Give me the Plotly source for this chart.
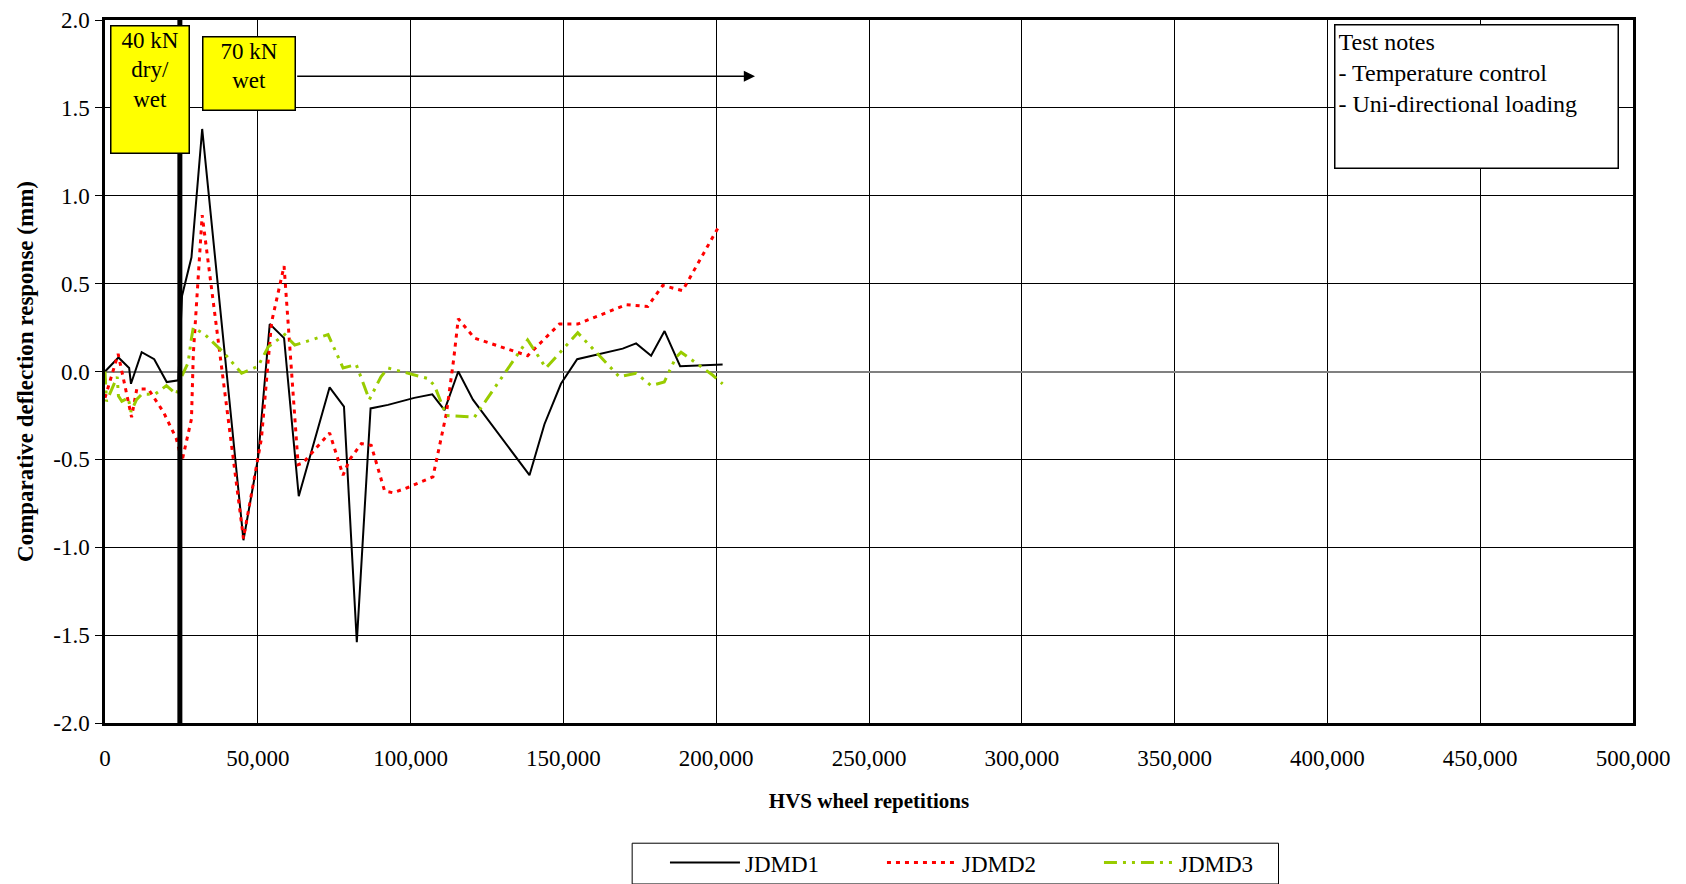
import plotly.graph_objects as go

# %%
# values
jdmd1_x = [0, 4400, 7900, 8500, 12000, 16100, 20200, 24000, 25200, 28300, 31800,
           45300, 50100, 53900, 58600, 63400, 73500, 78200, 82400, 86900, 92600,
           101200, 107100, 111100, 115600, 120400, 138900, 143800, 149200, 154500,
           169400, 173800, 178700, 183100, 188200, 202100]
jdmd1_y = [0.0, 0.08, 0.02, -0.07, 0.11, 0.07, -0.06, -0.05, 0.43, 0.65, 1.38,
           -0.96, -0.49, 0.27, 0.19, -0.71, -0.09, -0.20, -1.54, -0.21, -0.19,
           -0.15, -0.13, -0.22, 0.0, -0.16, -0.59, -0.30, -0.07, 0.07,
           0.13, 0.16, 0.09, 0.23, 0.03, 0.04]

jdmd2_x = [0, 4300, 8700, 10400, 14200, 19100, 23300, 25200, 28300, 28900, 31800,
           45300, 51200, 54500, 58600, 63200, 64800, 73500, 77900, 80100, 83900,
           87100, 91500, 94200, 99100, 107300, 111700, 114100, 115600, 120900,
           138300, 148700, 154700, 170500, 177600, 182500, 189000, 201000]
jdmd2_y = [-0.15, 0.10, -0.26, -0.10, -0.10, -0.23, -0.38, -0.51, -0.27, 0.10, 0.89,
           -0.95, -0.38, 0.28, 0.60, -0.53, -0.52, -0.35, -0.59, -0.50, -0.41,
           -0.42, -0.68, -0.69, -0.66, -0.60, -0.24, 0.07, 0.30, 0.19,
           0.09, 0.27, 0.27, 0.38, 0.37, 0.49, 0.46, 0.83]

jdmd3_x = [0, 500, 4000, 4400, 5500, 7600, 8500, 10300, 12000, 16300, 20100, 23400,
           25300, 27200, 28300, 28900, 32700, 38700, 44700, 50100, 53400, 58800,
           62100, 73000, 77900, 82200, 86500, 90300, 92600, 105700, 107800, 111700,
           120900, 138300, 144300, 154700, 159600, 168300, 173800, 178700, 183000,
           186800, 188500, 198800, 202100]
jdmd3_y = [0.0, -0.17, -0.03, -0.14, -0.17, -0.15, -0.23, -0.16, -0.13, -0.13, -0.08, -0.13,
           -0.02, 0.05, 0.19, 0.25, 0.21, 0.11, -0.01, 0.03, 0.14, 0.21,
           0.15, 0.21, 0.02, 0.04, -0.16, -0.03, 0.02, -0.04, -0.08, -0.25,
           -0.26, 0.18, 0.02, 0.22, 0.13, -0.03, -0.01, -0.08, -0.06,
           0.08, 0.11, -0.02, -0.07]

load_change = 24500  # 40 kN -> 70 kN
y_ticks = [-2.0, -1.5, -1.0, -0.5, 0.0, 0.5, 1.0, 1.5, 2.0]
y_ticktext = ["-2.0", "-1.5", "-1.0", "-0.5", "0.0", "0.5", "1.0", "1.5", "2.0"]
x_ticks = list(range(0, 500001, 50000))
x_ticktext = ["0", "50,000", "100,000", "150,000", "200,000", "250,000",
              "300,000", "350,000", "400,000", "450,000", "500,000"]

FONT = "Times New Roman, Liberation Serif, serif"

# %%
fig = go.Figure()
fig.add_trace(go.Scatter(x=jdmd1_x, y=jdmd1_y, name="JDMD1", mode="lines",
                         line=dict(color="black", width=2)))
fig.add_trace(go.Scatter(x=jdmd2_x, y=jdmd2_y, name="JDMD2", mode="lines",
                         line=dict(color="#FF0000", width=3, dash="4px,5px")))
fig.add_trace(go.Scatter(x=jdmd3_x, y=jdmd3_y, name="JDMD3", mode="lines",
                         line=dict(color="#99CC00", width=3,
                                   dash="13px,6px,3px,6px,3px,6px")))

# thick marker line where the load changes
fig.add_shape(type="line", xref="x", yref="y", x0=load_change, x1=load_change,
              y0=-2, y1=2, line=dict(color="black", width=5))
# frame round the legend
fig.add_shape(type="rect", xref="paper", yref="paper", x0=0.345, x1=0.768,
              y0=-0.229, y1=-0.171, line=dict(color="black", width=1),
              fillcolor="rgba(0,0,0,0)")

fig.add_annotation(x=14700, y=1.974, xref="x", yref="y", xanchor="center",
                   yanchor="top", text="40 kN<br>dry/<br>wet", showarrow=False,
                   width=75, height=124, valign="top", bgcolor="#FFFF00",
                   bordercolor="black", borderwidth=1.5, borderpad=1,
                   font=dict(family=FONT, size=23, color="black"))
fig.add_annotation(x=47060, y=1.697, xref="x", yref="y", xanchor="center",
                   yanchor="middle", text="70 kN<br>wet", showarrow=False,
                   width=89, height=70, valign="top", bgcolor="#FFFF00",
                   bordercolor="black", borderwidth=1.5, borderpad=1,
                   font=dict(family=FONT, size=23, color="black"))
fig.add_annotation(x=212700, y=1.68, ax=62400, ay=1.68, xref="x", yref="y",
                   axref="x", ayref="y", text="", showarrow=True, arrowhead=2,
                   arrowsize=1.4, arrowwidth=1.6, arrowcolor="black")
fig.add_annotation(x=402300, y=1.975, xref="x", yref="y", xanchor="left",
                   yanchor="top",
                   text="Test notes<br>- Temperature control<br>- Uni-directional loading",
                   showarrow=False, align="left", valign="top", width=276, height=136,
                   bgcolor="white", bordercolor="black", borderwidth=1.5, borderpad=3,
                   font=dict(family=FONT, size=24, color="black"))

# page body adds 8px around the figure, so size is trimmed to fit the window
fig.update_layout(
    width=1670,
    height=876,
    margin=dict(l=97, r=45, t=12, b=161, autoexpand=False),
    plot_bgcolor="white",
    paper_bgcolor="white",
    font=dict(family=FONT, size=22, color="black"),
    showlegend=True,
    legend=dict(orientation="h", x=0.3416, xanchor="left", y=-0.168, yanchor="top",
                borderwidth=0, font=dict(family=FONT, size=23),
                entrywidth=132, entrywidthmode="pixels", itemwidth=70,
                title=dict(text="\u00a0\u00a0\u00a0\u00a0", side="left"),
                bgcolor="rgba(0,0,0,0)"),
)
fig.update_xaxes(
    range=[0, 500000], tickvals=x_ticks, ticktext=x_ticktext,
    showgrid=True, gridcolor="black", gridwidth=1, zeroline=False,
    showline=True, linecolor="black", linewidth=2.5, mirror=True,
    ticks="", ticklabelstandoff=13, ticklabeloverflow="allow",
    tickfont=dict(family=FONT, size=23),
    title=dict(text="<b>HVS wheel repetitions</b>", font=dict(family=FONT, size=21),
               standoff=23),
)
fig.update_yaxes(
    range=[-2, 2], tickvals=y_ticks, ticktext=y_ticktext,
    showgrid=True, gridcolor="black", gridwidth=1,
    zeroline=True, zerolinecolor="#808080", zerolinewidth=2,
    showline=True, linecolor="black", linewidth=2.5, mirror=True,
    ticks="outside", ticklen=7, tickcolor="black", ticklabelstandoff=1,
    ticklabeloverflow="allow", tickfont=dict(family=FONT, size=23),
    title=dict(text="<b>Comparative deflection response (mm)</b>",
               font=dict(family=FONT, size=23), standoff=14),
)

fig.write_html("out.html")
